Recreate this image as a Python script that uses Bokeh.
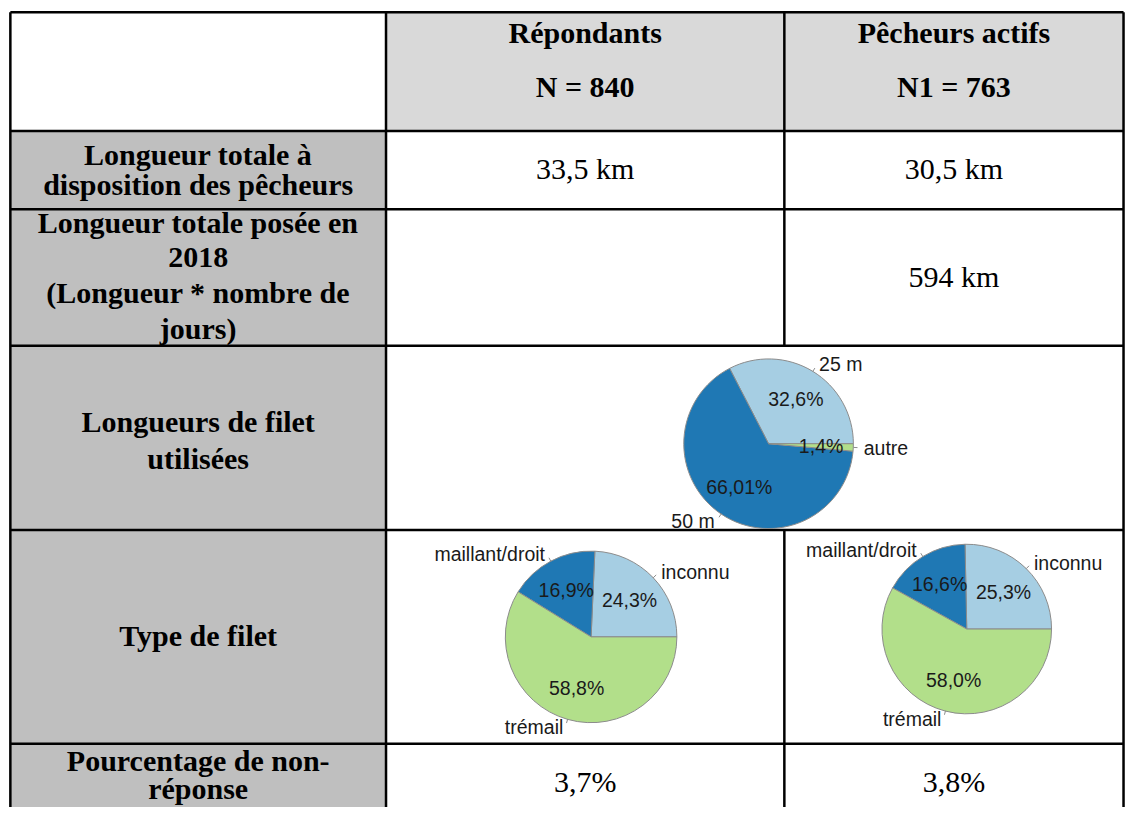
import math
from bokeh.plotting import figure
from bokeh.models import Range1d
from bokeh.core.properties import value
from bokeh.embed import file_html
from bokeh.resources import INLINE

# ---------------- data ----------------
col_headers = ["Répondants", "Pêcheurs actifs"]
col_counts = ["N = 840", "N1 = 763"]
row_labels = [
    ["Longueur totale à", "disposition des pêcheurs"],
    ["Longueur totale posée en", "2018", "(Longueur * nombre de", "jours)"],
    ["Longueurs de filet", "utilisées"],
    ["Type de filet"],
    ["Pourcentage de non-", "réponse"],
]
longueur_dispo = ["33,5 km", "30,5 km"]
longueur_posee = ["", "594 km"]
non_reponse = ["3,7%", "3,8%"]

cat_longueur = ["25 m", "50 m", "autre"]
pct_longueur = [32.6, 66.01, 1.4]
pct_longueur_lbl = ["32,6%", "66,01%", "1,4%"]

cat_type = ["inconnu", "maillant/droit", "trémail"]
pct_type_repondants = [24.3, 16.9, 58.8]
pct_type_repondants_lbl = ["24,3%", "16,9%", "58,8%"]
pct_type_actifs = [25.3, 16.6, 58.0]
pct_type_actifs_lbl = ["25,3%", "16,6%", "58,0%"]

# ---------------- layout ----------------
W, H = 1125, 807          # figure size in screen px
RW, RH = 1141, 823        # reference canvas (data units)
col_edges = [10, 391, 795, 1139]
row_edges = [12, 133, 213, 352, 540, 758, 840]
SERIF = value("Liberation Serif")
SANS = value("Liberation Sans")


def X(px):
    return px


def Y(py):
    return RH - py


p = figure(width=W, height=H, output_backend="svg", toolbar_location=None,
           x_range=Range1d(0, RW), y_range=Range1d(0, RH), min_border=0)
p.axis.visible = False
p.grid.visible = False
p.outline_line_color = None
p.background_fill_color = "white"
p.border_fill_color = "white"

# cell fills
p.quad(left=[X(col_edges[1]), X(col_edges[2])], right=[X(col_edges[2]), X(col_edges[3])],
       top=[Y(row_edges[0])] * 2, bottom=[Y(row_edges[1])] * 2,
       fill_color="#d9d9d9", line_color=None)
p.quad(left=[X(col_edges[0])] * 5, right=[X(col_edges[1])] * 5,
       top=[Y(v) for v in row_edges[1:6]], bottom=[Y(v) for v in row_edges[2:7]],
       fill_color="#bfbfbf", line_color=None)

# grid lines
xs, ys = [], []
for r in row_edges[:-1]:
    xs.append([X(col_edges[0]), X(col_edges[-1])])
    ys.append([Y(r), Y(r)])
for c in [col_edges[0], col_edges[1], col_edges[3]]:
    xs.append([X(c), X(c)])
    ys.append([Y(row_edges[0]), Y(row_edges[-1])])
# middle divider, interrupted on the merged pie row
xs.append([X(col_edges[2]), X(col_edges[2])]); ys.append([Y(row_edges[0]), Y(row_edges[3])])
xs.append([X(col_edges[2]), X(col_edges[2])]); ys.append([Y(row_edges[4]), Y(row_edges[-1])])
p.multi_line(xs, ys, line_color="black", line_width=2.5)

col_cx = [(col_edges[1] + col_edges[2]) / 2, (col_edges[2] + col_edges[3]) / 2]
lab_cx = (col_edges[0] + col_edges[1]) / 2


def txt(x, y, t, font=SERIF, size="30px", style="bold", align="center", color="black"):
    p.text(x=[X(x)], y=[Y(y)], text=[t], text_font=font, text_font_size=value(size),
           text_font_style=style, text_align=align, text_baseline="middle", text_color=color)


# header
for i in range(2):
    txt(col_cx[i], 33, col_headers[i])
    txt(col_cx[i], 88, col_counts[i])

# row labels
label_ys = [[157, 188], [226, 262, 298, 335], [429, 467], [648], [775, 804]]
for lines, yy in zip(row_labels, label_ys):
    for t, y in zip(lines, yy):
        txt(lab_cx, y, t)

# values
for i in range(2):
    txt(col_cx[i], 171, longueur_dispo[i], style="normal")
    if longueur_posee[i]:
        txt(col_cx[i], 281, longueur_posee[i], style="normal")
    txt(col_cx[i], 796, non_reponse[i], style="normal")

# pies
PIE_COLORS = ["#a6cee3", "#1f78b4", "#b2df8a"]
LBL = value("19.5px")


def pie(cx, cy, r, vals, cats, pct_lbls, colors):
    total = sum(vals)
    a0 = 0.0
    for v, c, pl, col in zip(vals, cats, pct_lbls, colors):
        a1 = a0 + 2 * math.pi * v / total
        p.wedge(x=[X(cx)], y=[Y(cy)], radius=r, start_angle=a0, end_angle=a1,
                fill_color=col, line_color="#8c8c8c", line_width=1)
        m = (a0 + a1) / 2
        # percentage inside
        p.text(x=[X(cx) + 0.62 * r * math.cos(m)], y=[Y(cy) + 0.62 * r * math.sin(m)], text=[pl],
               text_font=SANS, text_font_size=LBL, text_align="center",
               text_baseline="middle", text_color="#1a1a1a")
        # leader + outside category label
        p.line(x=[X(cx) + r * math.cos(m), X(cx) + 1.05 * r * math.cos(m)],
               y=[Y(cy) + r * math.sin(m), Y(cy) + 1.05 * r * math.sin(m)],
               line_color="#8c8c8c", line_width=1)
        right = math.cos(m) >= 0
        p.text(x=[X(cx) + 1.1 * r * math.cos(m) + (2 if right else -2)],
               y=[Y(cy) + 1.1 * r * math.sin(m)], text=[c],
               text_font=SANS, text_font_size=LBL,
               text_align="left" if right else "right",
               text_baseline="middle", text_color="#1a1a1a")
        a0 = a1


pie(779, 452, 86, pct_longueur, cat_longueur, pct_longueur_lbl, PIE_COLORS)
type_colors = ["#a6cee3", "#1f78b4", "#b2df8a"]
pie(599, 649, 87, pct_type_repondants, cat_type, pct_type_repondants_lbl, type_colors)
pie(980, 641, 86, pct_type_actifs, cat_type, pct_type_actifs_lbl, type_colors)

open("out.html", "w").write(file_html(p, INLINE))
